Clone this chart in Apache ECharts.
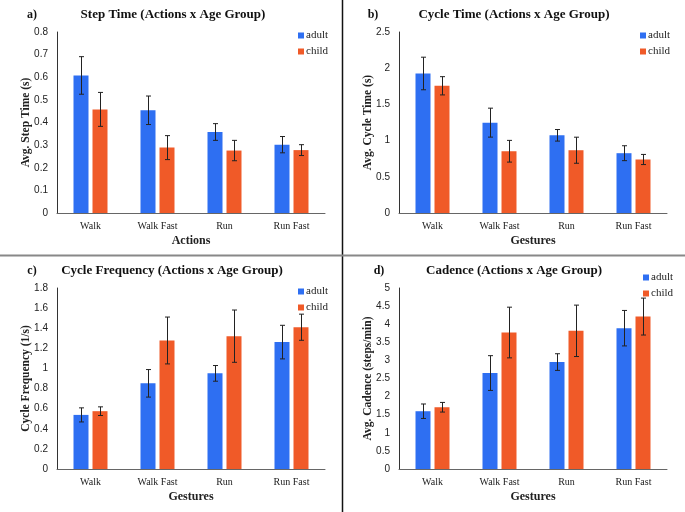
<!DOCTYPE html>
<html>
<head>
<meta charset="utf-8">
<script src="https://cdn.jsdelivr.net/npm/echarts@6/dist/echarts.min.js"></script>
<style>
  html, body { margin: 0; padding: 0; background: #fff; }
  #chart { width: 685px; height: 512px; }
</style>
</head>
<body>
<div id="chart"></div>
<script>
// categories
const categories = ['Walk', 'Walk Fast', 'Run', 'Run Fast']

// a) step time
const stepAdult = [0.608, 0.454, 0.358, 0.302]
const stepAdultErr = [0.083, 0.063, 0.037, 0.036]
const stepChild = [0.458, 0.289, 0.276, 0.278]
const stepChildErr = [0.075, 0.053, 0.045, 0.024]

// b) cycle time
const cycleAdult = [1.927, 1.248, 1.073, 0.826]
const cycleAdultErr = [0.225, 0.2, 0.08, 0.103]
const cycleChild = [1.757, 0.853, 0.867, 0.739]
const cycleChildErr = [0.126, 0.15, 0.18, 0.07]

// c) cycle frequency
const freqAdult = [0.538, 0.852, 0.951, 1.262]
const freqAdultErr = [0.07, 0.137, 0.078, 0.167]
const freqChild = [0.575, 1.278, 1.321, 1.41]
const freqChildErr = [0.043, 0.233, 0.26, 0.13]

// d) cadence
const cadAdult = [1.596, 2.651, 2.954, 3.89]
const cadAdultErr = [0.2, 0.48, 0.23, 0.49]
const cadChild = [1.706, 3.77, 3.817, 4.211]
const cadChildErr = [0.133, 0.7, 0.71, 0.51]

const BLUE = '#2e6ff2'
const ORANGE = '#f05a28'
const SERIF = '"Liberation Serif", "DejaVu Serif", serif'
const SANS = '"Liberation Sans", Arial, sans-serif'
const BAR_W = 15
const BAR_GAP = 4

const panels = [
  { tag: 'a)', title: 'Step Time (Actions x Age Group)', xName: 'Actions', yName: 'Avg. Step Time (s)',
    max: 0.8, interval: 0.1, adult: stepAdult, adultErr: stepAdultErr, child: stepChild, childErr: stepChildErr,
    left: 57, top: 32, titleX: 173, titleY: 15, tagX: 32, legendX: 298, legendY: 30 },
  { tag: 'b)', title: 'Cycle Time (Actions x Age Group)', xName: 'Gestures', yName: 'Avg. Cycle Time (s)',
    max: 2.5, interval: 0.5, adult: cycleAdult, adultErr: cycleAdultErr, child: cycleChild, childErr: cycleChildErr,
    left: 399, top: 32, titleX: 514, titleY: 15, tagX: 373, legendX: 640, legendY: 30 },
  { tag: 'c)', title: 'Cycle Frequency (Actions x Age Group)', xName: 'Gestures', yName: 'Cycle Frequency (1/s)',
    max: 1.8, interval: 0.2, adult: freqAdult, adultErr: freqAdultErr, child: freqChild, childErr: freqChildErr,
    left: 57, top: 288, titleX: 172, titleY: 271, tagX: 32, legendX: 298, legendY: 286 },
  { tag: 'd)', title: 'Cadence (Actions x Age Group)', xName: 'Gestures', yName: 'Avg. Cadence (steps/min)',
    max: 5, interval: 0.5, adult: cadAdult, adultErr: cadAdultErr, child: cadChild, childErr: cadChildErr,
    left: 399, top: 288, titleX: 514, titleY: 271, tagX: 379, legendX: 643, legendY: 272 }
]

// error bar drawer, offset = shift from category centre
const errorRenderer = (offset) => (params, api) => {
  const i = api.value(0)
  const hi = api.coord([i, api.value(2)])
  const lo = api.coord([i, api.value(1)])
  const cx = Math.round(hi[0] + offset) + 0.5
  const style = { stroke: '#222', lineWidth: 1 }
  return {
    type: 'group',
    children: [
      { type: 'line', shape: { x1: cx, y1: hi[1], x2: cx, y2: lo[1] }, style },
      { type: 'line', shape: { x1: cx - 2.5, y1: hi[1], x2: cx + 2.5, y2: hi[1] }, style },
      { type: 'line', shape: { x1: cx - 2.5, y1: lo[1], x2: cx + 2.5, y2: lo[1] }, style }
    ]
  }
}

const errData = (vals, errs) => vals.map((v, i) => [i, v - errs[i], v + errs[i]])

const grid = []
const xAxis = []
const yAxis = []
const series = []
const legend = []
const title = []

panels.forEach((p, k) => {
  grid.push({ left: p.left, top: p.top, width: 268, height: 181 })
  xAxis.push({
    type: 'category', gridIndex: k, data: categories,
    name: p.xName, nameLocation: 'middle', nameGap: 22,
    nameTextStyle: { fontFamily: SERIF, fontWeight: 'bold', fontSize: 12, color: '#222' },
    axisLine: { lineStyle: { color: '#666', width: 1 } },
    axisTick: { show: false },
    axisLabel: { fontFamily: SERIF, fontSize: 10, color: '#222', margin: 8 }
  })
  yAxis.push({
    type: 'value', gridIndex: k, min: 0, max: p.max, interval: p.interval,
    name: p.yName, nameLocation: 'middle', nameGap: 25, nameMoveOverlap: false,
    nameTextStyle: { fontFamily: SERIF, fontWeight: 'bold', fontSize: 11.5, color: '#222' },
    axisLine: { show: true, lineStyle: { color: '#333', width: 1 } },
    axisTick: { show: false },
    splitLine: { show: false },
    axisLabel: { fontFamily: SANS, fontSize: 10, color: '#222', margin: 9 }
  })
  series.push(
    { name: 'adult', type: 'bar', xAxisIndex: k, yAxisIndex: k, data: p.adult,
      barWidth: BAR_W, barGap: (BAR_GAP / BAR_W * 100) + '%', itemStyle: { color: BLUE } },
    { name: 'child', type: 'bar', xAxisIndex: k, yAxisIndex: k, data: p.child,
      barWidth: BAR_W, barGap: (BAR_GAP / BAR_W * 100) + '%', itemStyle: { color: ORANGE } },
    { type: 'custom', xAxisIndex: k, yAxisIndex: k, data: errData(p.adult, p.adultErr),
      renderItem: errorRenderer(-(BAR_W + BAR_GAP) / 2), encode: { x: 0, y: [1, 2] }, z: 5, silent: true },
    { type: 'custom', xAxisIndex: k, yAxisIndex: k, data: errData(p.child, p.childErr),
      renderItem: errorRenderer((BAR_W + BAR_GAP) / 2), encode: { x: 0, y: [1, 2] }, z: 5, silent: true }
  )
  legend.push({
    data: ['adult', 'child'], orient: 'vertical', left: p.legendX, top: p.legendY,
    icon: 'rect', itemWidth: 6, itemHeight: 6, itemGap: 5, padding: 0,
    textStyle: { fontFamily: SERIF, fontSize: 11, color: '#222', padding: [0, 0, 0, -3] },
    selectedMode: false
  })
  title.push({
    text: p.title, left: p.titleX, top: p.titleY, textAlign: 'center', textVerticalAlign: 'middle',
    textStyle: { fontFamily: SERIF, fontWeight: 'bold', fontSize: 13, color: '#111' }, padding: 0
  })
  title.push({
    text: p.tag, left: p.tagX, top: p.titleY, textAlign: 'center', textVerticalAlign: 'middle',
    textStyle: { fontFamily: SERIF, fontWeight: 'bold', fontSize: 12, color: '#111' }, padding: 0
  })
})

const chart = echarts.init(document.getElementById('chart'), null, { renderer: 'canvas' })
chart.setOption({
  animation: false,
  backgroundColor: '#fff',
  title, legend, grid, xAxis, yAxis, series,
  graphic: [
    // panel dividers
    { type: 'line', shape: { x1: 342.5, y1: 0, x2: 342.5, y2: 512 }, style: { stroke: '#111', lineWidth: 1.5 } },
    { type: 'line', shape: { x1: 0, y1: 255.5, x2: 685, y2: 255.5 }, style: { stroke: '#888', lineWidth: 2 } }
  ]
})
</script>
</body>
</html>
